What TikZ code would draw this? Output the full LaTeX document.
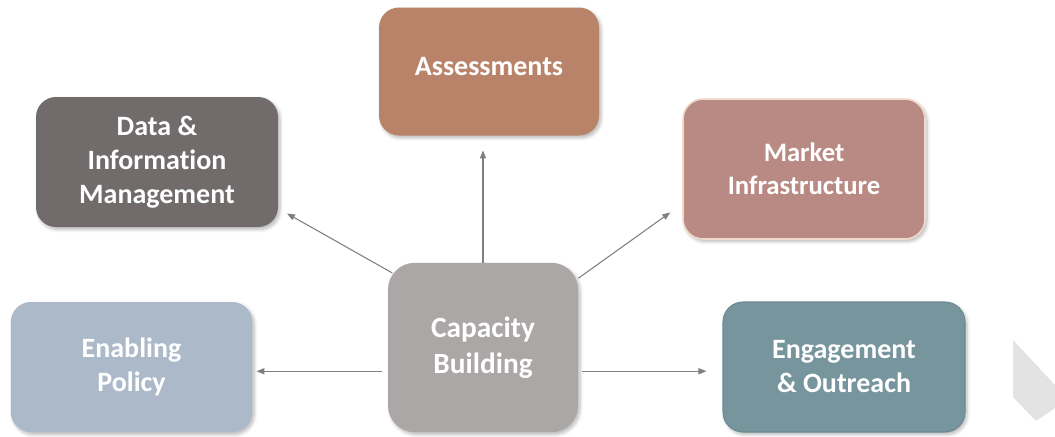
\documentclass[tikz,border=0pt]{standalone}
\usepackage{fontspec}
\setmainfont{Carlito}[Ligatures=NoCommon]
\usetikzlibrary{arrows.meta,shadows.blur}

\definecolor{assessC}{HTML}{B9836A}
\definecolor{dataC}{HTML}{716C6B}
\definecolor{policyC}{HTML}{ABB9C8}
\definecolor{marketC}{HTML}{B98A84}
\definecolor{marketEdge}{HTML}{F0DACB}
\definecolor{engageC}{HTML}{77959D}
\definecolor{engageEdge}{HTML}{6C8A92}
\definecolor{capC}{HTML}{ABA7A6}
\definecolor{arrowC}{HTML}{7F7F7F}
\definecolor{chevronC}{HTML}{E3E3E3}

\tikzset{
  topic/.style={rectangle, rounded corners=15pt, text=white, align=center,
    font=\bfseries\fontsize{21}{25.5}\selectfont, inner sep=0pt,
    blur shadow={shadow blur steps=6, shadow xshift=1.5pt, shadow yshift=-1.8pt,
      shadow opacity=28, shadow blur radius=2.5pt}},
  link/.style={draw=arrowC, line width=0.8pt,
    -{Triangle[length=6pt,width=4.6pt]}}
}

\begin{document}
\begin{tikzpicture}[x=0.75pt,y=-0.75pt]
  \useasboundingbox (0,0) rectangle (1055,436);

  % decorative chevron at the right edge
  \fill[chevronC] (1013,340) -- (1055,385) -- (1055,408)
    -- (1039,419) .. controls (1036,421) .. (1033,418) -- (1013,397) -- cycle;

  % outer topics
  \node[topic, fill=assessC, minimum width=165pt, minimum height=96pt]
    (assess) at (489,71.5) {\raisebox{4pt}[\height][\depth]{Assessments}};
  \node[topic, fill=dataC, minimum width=181.5pt, minimum height=97.5pt]
    (data) at (157,162) {Data \&\\Information\\Management};
  \node[topic, fill=policyC, minimum width=181pt, minimum height=97.5pt]
    (policy) at (131.5,367) {Enabling\\Policy};
  \node[topic, fill=marketC, draw=marketEdge, line width=1.2pt,
    minimum width=181.5pt, minimum height=105pt,
    font=\bfseries\fontsize{20}{24.5}\selectfont]
    (market) at (804,169) {Market\\Infrastructure};
  \node[topic, fill=engageC, draw=engageEdge, line width=0.8pt,
    minimum width=181.5pt, minimum height=97.5pt]
    (engage) at (844,367) {Engagement\\\& Outreach};

  % central topic
  \node[topic, fill=capC, rounded corners=20pt, minimum width=142.5pt,
    minimum height=127pt, font=\bfseries\fontsize{22}{27}\selectfont]
    (cap) at (483,347.5) {Capacity\\Building};

  % connectors from the centre outwards
  \draw[link, shorten >=11pt] (cap.north) -- (cap.north |- assess.south);
  \draw[link, shorten <=-4pt, shorten >=7.5pt] (cap.141) -- (data.-21);
  \draw[link, shorten >=11pt] (cap.36.5) -- (market.196);
  \draw[link, shorten <=4pt, shorten >=3pt] (cap.194) -- (cap.194 -| policy.east);
  \draw[link, shorten <=3pt, shorten >=12pt] (cap.-14) -- (cap.-14 -| engage.west);
\end{tikzpicture}
\end{document}
